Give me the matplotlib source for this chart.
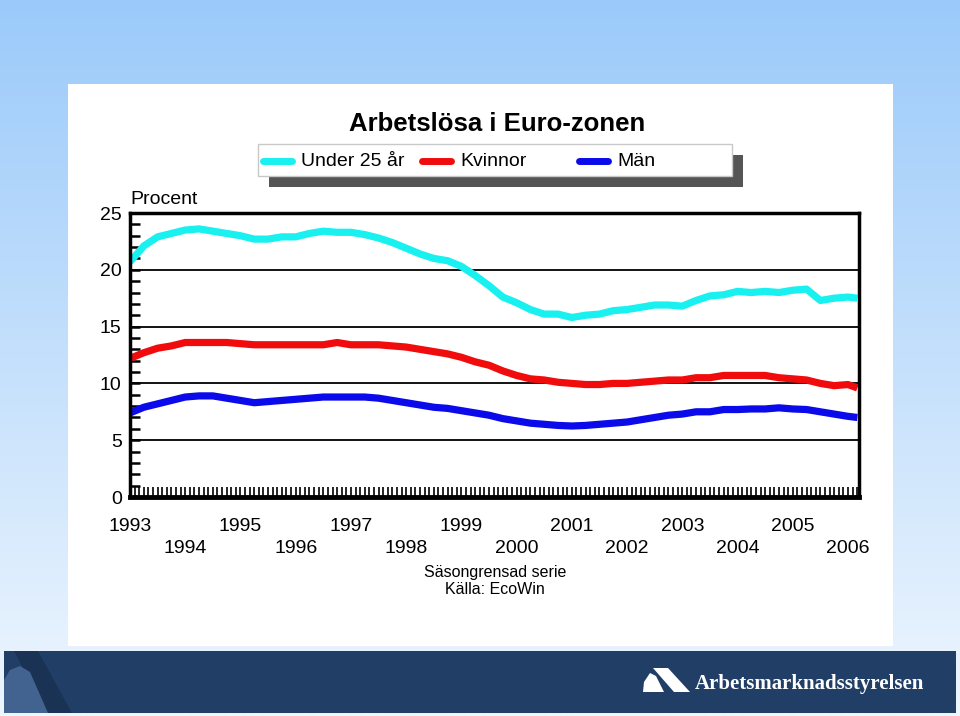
import numpy as np
import matplotlib
matplotlib.use("Agg")
import matplotlib.pyplot as plt
from matplotlib.patches import Rectangle, Polygon
from matplotlib.lines import Line2D
from matplotlib.ticker import MultipleLocator, FixedLocator

plt.rcParams['font.family'] = ['Liberation Sans', 'DejaVu Sans']

# ---------------- data (quarterly readings, %) ----------------
dates = [1993.0 + 0.25 * i for i in range(53)] + [2006.17]

under25 = [20.7, 22.1, 22.9, 23.2, 23.5, 23.6, 23.4, 23.2, 23.0, 22.7, 22.7, 22.9,
           22.9, 23.2, 23.4, 23.3, 23.3, 23.1, 22.8, 22.4, 21.9, 21.4, 21.0, 20.8,
           20.3, 19.5, 18.6, 17.6, 17.1, 16.5, 16.1, 16.1, 15.8, 16.0, 16.1, 16.4,
           16.5, 16.7, 16.9, 16.9, 16.8, 17.3, 17.7, 17.8, 18.1, 18.0, 18.1, 18.0,
           18.2, 18.3, 17.3, 17.5, 17.6, 17.5]
kvinnor = [12.2, 12.7, 13.1, 13.3, 13.6, 13.6, 13.6, 13.6, 13.5, 13.4, 13.4, 13.4,
           13.4, 13.4, 13.4, 13.6, 13.4, 13.4, 13.4, 13.3, 13.2, 13.0, 12.8, 12.6,
           12.3, 11.9, 11.6, 11.1, 10.7, 10.4, 10.3, 10.1, 10.0, 9.9, 9.9, 10.0,
           10.0, 10.1, 10.2, 10.3, 10.3, 10.5, 10.5, 10.7, 10.7, 10.7, 10.7, 10.5,
           10.4, 10.3, 10.0, 9.8, 9.9, 9.6]
man = [7.4, 7.9, 8.2, 8.5, 8.8, 8.9, 8.9, 8.7, 8.5, 8.3, 8.4, 8.5,
       8.6, 8.7, 8.8, 8.8, 8.8, 8.8, 8.7, 8.5, 8.3, 8.1, 7.9, 7.8,
       7.6, 7.4, 7.2, 6.9, 6.7, 6.5, 6.4, 6.3, 6.25, 6.3, 6.4, 6.5,
       6.6, 6.8, 7.0, 7.2, 7.3, 7.5, 7.5, 7.7, 7.7, 7.75, 7.75, 7.85,
       7.75, 7.7, 7.5, 7.3, 7.1, 7.0]

series_names = ['Under 25 år', 'Kvinnor', 'Män']
series_colors = ['#19F0F0', '#F00C0C', '#0A0AEB']
series_values = [under25, kvinnor, man]

years = list(range(1993, 2007))
yticks = [0, 5, 10, 15, 20, 25]

title = 'Arbetslösa i Euro-zonen'
ylabel = 'Procent'
notes = ['Säsongrensad serie', 'Källa: EcoWin']
brand = 'Arbetsmarknadsstyrelsen'

# ---------------- figure & background ----------------
W, H = 960, 716
fig = plt.figure(figsize=(W / 100, H / 100), dpi=100)
bg = fig.add_axes([0, 0, 1, 1])
bg.set_xlim(0, W)
bg.set_ylim(H, 0)
bg.axis('off')

top = np.array([155, 202, 250]) / 255
bot = np.array([238, 246, 254]) / 255
t = np.linspace(0, 1, 256)[:, None, None]
grad = top * (1 - t) + bot * t
grad = np.repeat(grad, 2, axis=1)
bg.imshow(grad, extent=(0, W, H, 0), aspect='auto', zorder=0)

# white panel
bg.add_patch(Rectangle((68, 84), 825, 562, facecolor='white', edgecolor='none', zorder=1))

# bottom band
bg.add_patch(Rectangle((4, 651), 952, 62, facecolor='#213f66', edgecolor='none', zorder=2))
bg.add_patch(Polygon([(14, 651), (38, 651), (72, 713), (46, 713)], closed=True,
                     facecolor='#1a3253', edgecolor='none', zorder=3))
bg.add_patch(Polygon([(4, 680), (10, 670), (20, 666), (30, 672), (48, 713), (4, 713)], closed=True,
                     facecolor='#42638f', edgecolor='none', zorder=4))
# logo
bg.add_patch(Polygon([(653, 668), (668, 668), (690, 692), (674, 692)], closed=True,
                     facecolor='white', edgecolor='none', zorder=5))
bg.add_patch(Polygon([(643, 692), (644, 682), (650, 673), (656, 676), (664, 692)], closed=True,
                     facecolor='white', edgecolor='none', zorder=5))
bg.text(695, 684, brand, color='white', fontsize=15, fontweight='bold',
        family=['Liberation Serif', 'DejaVu Serif'], ha='left', va='center', zorder=6)

# title
bg.text(497, 124, title, fontsize=18.5, fontweight='bold', ha='center', va='center', zorder=6)

# legend with shadow
bg.add_patch(Rectangle((269, 155), 474, 32, facecolor='#555555', edgecolor='none', zorder=5))
bg.add_patch(Rectangle((258, 144), 474, 32, facecolor='white', edgecolor='#c8c8c8', lw=1, zorder=6))
leg_x = [263, 422, 579]
for lx, name, col in zip(leg_x, series_names, series_colors):
    bg.add_line(Line2D([lx, lx + 29], [161, 161], color=col, lw=5, solid_capstyle='round', zorder=7))
    bg.text(lx + 38, 161, name, fontsize=14, ha='left', va='center', zorder=7)

# y label and notes
bg.text(130, 199, ylabel, fontsize=14, ha='left', va='center', zorder=6)
bg.text(495, 573, notes[0], fontsize=11.5, ha='center', va='center', zorder=6)
bg.text(495, 590, notes[1], fontsize=11.5, ha='center', va='center', zorder=6)

# ---------------- main axes ----------------
ax = fig.add_axes([130 / W, 1 - 497 / H, 729 / W, 284 / H])
ax.set_facecolor('white')
for vals, col in zip(series_values, series_colors):
    ax.plot(dates, vals, color=col, lw=5.2, solid_joinstyle='round', solid_capstyle='butt', zorder=3)

ax.set_xlim(1993, 2006.2)
ax.set_ylim(0, 25)

ax.yaxis.set_major_locator(FixedLocator(yticks))
ax.yaxis.set_minor_locator(MultipleLocator(1))
ax.set_yticklabels([str(v) for v in yticks])
ax.grid(axis='y', which='major', color='black', lw=1.3, zorder=1)

ax.xaxis.set_major_locator(FixedLocator(years))
ax.xaxis.set_minor_locator(MultipleLocator(1 / 12))
ax.set_xticklabels([str(y) if y % 2 == 1 else '\n' + str(y) for y in years])
for lab in ax.get_xticklabels():
    lab.set_linespacing(1.4)

ax.tick_params(axis='y', which='both', direction='in', length=7, width=1.8, pad=6,
               labelsize=14, right=False)
ax.tick_params(axis='x', which='both', direction='in', length=7, width=1.2, pad=15,
               labelsize=14, top=False)

for side in ['left', 'top', 'right']:
    ax.spines[side].set_linewidth(2.5)
ax.spines['bottom'].set_linewidth(3.5)
for s in ax.spines.values():
    s.set_zorder(4)

fig.savefig('out.png', dpi=100)
